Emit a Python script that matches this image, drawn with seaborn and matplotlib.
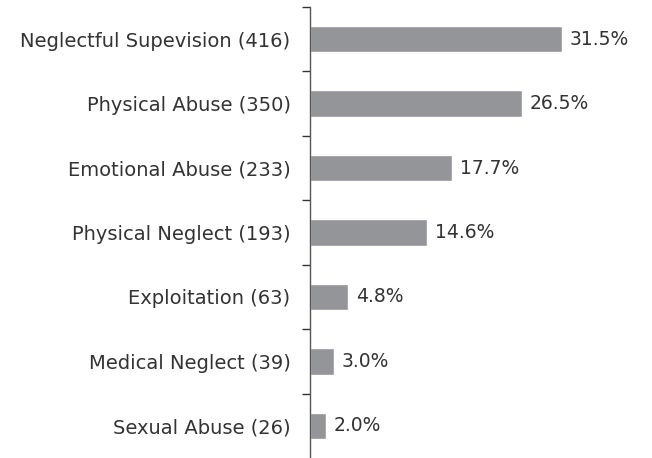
import matplotlib
matplotlib.use("Agg")
import matplotlib.pyplot as plt
import seaborn as sns
import pandas as pd

categories = ["Neglectful Supevision", "Physical Abuse", "Emotional Abuse",
              "Physical Neglect", "Exploitation", "Medical Neglect", "Sexual Abuse"]
counts = [416, 350, 233, 193, 63, 39, 26]
percents = [31.5, 26.5, 17.7, 14.6, 4.8, 3.0, 2.0]

sns.set_style("white")
plt.rcParams['font.family'] = ['DejaVu Sans']

df = pd.DataFrame({
    "label": [f"{c} ({n})" for c, n in zip(categories, counts)],
    "pct": percents,
})

fig = plt.figure(figsize=(6.52, 4.58), dpi=100)
ax = fig.add_axes([310 / 652, 0, 342 / 652, 451 / 458])
sns.barplot(data=df, x="pct", y="label", color="#939598", saturation=1,
            width=0.41, ax=ax)

ax.set_xlim(0, 42.75)
ax.set_ylim(6.5, -0.5)
ax.set_xlabel("")
ax.set_ylabel("")
ax.set_xticks([])

# ticks sit between categories, labels centered on bars
ax.set_yticks([i - 0.5 for i in range(len(categories))], minor=False)
ax.set_yticklabels([])
ax.set_yticks(range(len(categories)), minor=True)
ax.set_yticklabels(df["label"], minor=True, fontsize=14, color="#333333")
ax.tick_params(axis="y", which="major", left=True, length=6, width=1,
               color="#333333", direction="out")
ax.tick_params(axis="y", which="minor", left=False, length=0, pad=14)

for s in ["top", "right", "bottom"]:
    ax.spines[s].set_visible(False)
ax.spines["left"].set_color("#555555")
ax.spines["left"].set_linewidth(1)

for i, p in enumerate(percents):
    ax.text(p + 1.0, i, f"{p:.1f}%", va="center", ha="left",
            fontsize=13.5, color="#333333")

fig.savefig("out.png", dpi=100)
